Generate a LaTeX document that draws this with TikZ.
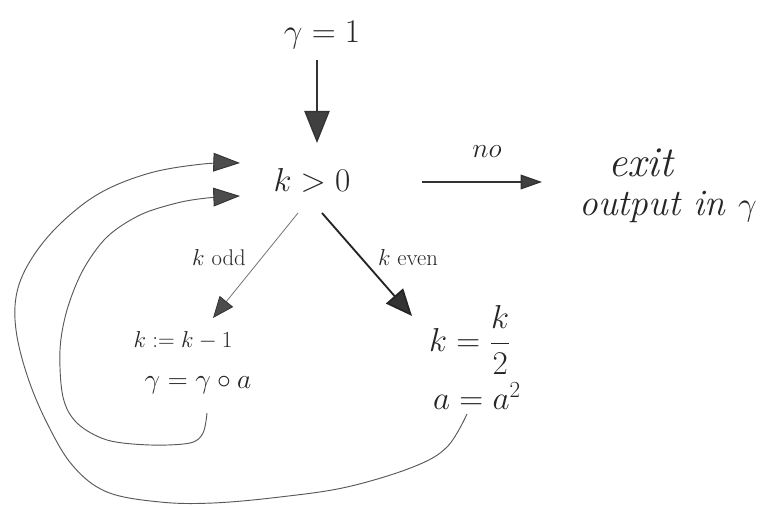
\documentclass[tikz,border=0pt]{standalone}
\usetikzlibrary{arrows.meta,calc}
\begin{document}
\begin{tikzpicture}[x=0.75pt,y=-0.75pt,
  txt/.style={inner sep=0pt, text=black!85},
  fbig/.style={txt, font=\fontsize{25}{30}\selectfont},
  fmid/.style={txt, font=\fontsize{22}{26}\selectfont},
  flarge/.style={txt, font=\fontsize{26}{30}\selectfont},
  fsmall/.style={txt, font=\fontsize{17}{20}\selectfont},
  fhand/.style={txt, font=\fontsize{28}{32}\selectfont\itshape},
  fexit/.style={txt, font=\fontsize{32}{36}\selectfont\itshape},
  arrtop/.style={draw=black!80, line width=1pt, -{Triangle[length=24pt,width=19pt,fill=black!75]}},
  arrno/.style={draw=black!80, line width=1pt, -{Triangle[length=16pt,width=11pt,fill=black!75]}},
  arrodd/.style={draw=black!55, line width=0.6pt, -{Triangle[length=16pt,width=13pt,fill=black!70,color=black!80]}},
  arreven/.style={draw=black!85, line width=1.4pt, -{Triangle[length=20pt,width=17pt,fill=black!80]}},
  loopline/.style={draw=black!65, line width=0.7pt, -{Triangle[length=20pt,width=14pt,fill=black!70,color=black!80]}}
]
\useasboundingbox[fill=white] (0,0) rectangle (771,506);

% nodes
\node[fbig] (gamma1) at (322,35) {$\gamma = 1$};
\node[fbig] (cond) at (312,180) {$k > 0$};
\node[fmid] (no) at (487,152) {$no$};
\node[fexit] (exit) at (641,163) {exit};
\node[fhand] (output) at (668,207) {output in $\gamma$};
\node[fsmall] (kodd) at (219,258) {$k$ odd};
\node[fsmall] (keven) at (408,258) {$k$ even};
\node[fsmall] (odd1) at (183,340) {$k := k - 1$};
\node[fmid] (odd2) at (198,385) {$\gamma = \gamma \circ a$};
\node[flarge] (even1) at (470,340) {$\displaystyle k = \frac{k}{2}$};
\node[flarge] (even2) at (477,396) {$a = a^{2}$};

% connectors
\draw[arrtop] ($(gamma1.center)+(-5,25)$) -- ($(cond.center)+(5,-37)$);
\draw[arrno] ($(cond.center)+(110,2)$) -- ($(exit.center)+(-99,19)$);
\draw[arrodd] ($(cond.center)+(-14,33)$) -- ($(odd1.center)+(30,-22)$);
\draw[arreven] ($(cond.center)+(10,33)$) -- ($(even1.center)+(-58,-24)$);

% loop back from gamma = gamma a
\draw[loopline] plot[smooth, tension=0.55] coordinates {
  ($(odd2.center)+(9,28)$) (203,433) (190,443) (150,445) (107,440) (77,423) (63,397)
  (60,350) (67,310) (83,270) (107,237) (140,215) (177,203) (207,198)
  ($(cond.center)+(-72,16)$)};

% loop back from a = a^2
\draw[loopline] plot[smooth, tension=0.6] coordinates {
  ($(even2.center)+(-10,18)$) (447,447) (413,467) (347,487) (280,497) (213,503)
  (160,502) (107,492) (73,466) (48,425) (28,378) (16,330) (17,292)
  (32,258) (60,224) (100,193) (150,173) (203,164) ($(cond.center)+(-72,-17)$)};
\end{tikzpicture}
\end{document}
